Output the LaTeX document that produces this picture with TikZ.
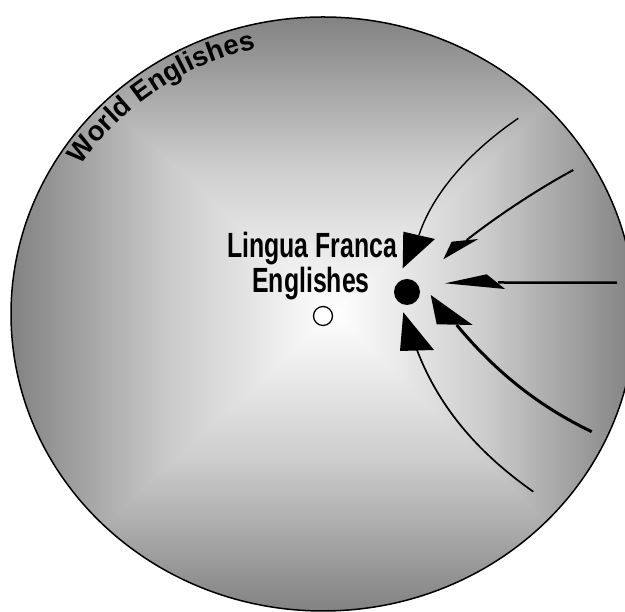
\documentclass[tikz,border=0pt]{standalone}
\usepackage{fontspec}
\setmainfont{Liberation Sans}
\usepackage{graphicx}
\usetikzlibrary{decorations.text}
\definecolor{edgegray}{RGB}{130,130,130}
\definecolor{midgray}{RGB}{204,204,204}
\begin{document}
\begin{tikzpicture}[x=1pt,y=1pt,
  head/.style={fill=black},
  shaft/.style={draw=black},
  lftext/.style={anchor=base, inner sep=0pt, font=\fontsize{35}{35}\selectfont\bfseries}]
\clip (0,0) rectangle (625,612);
\fill[white] (0,0) rectangle (625,612);
\coordinate (F) at (335,300);
% shaded world
\begin{scope}
  \clip (323,298) ellipse [x radius=312, y radius=297];
  \shade[top color=edgegray, bottom color=white, middle color=midgray] (11,300) rectangle (635,595);
  \shade[top color=white, bottom color=edgegray, middle color=midgray] (11,1) rectangle (635,300);
  \begin{scope}
    \clip (11,1) -- (F) -- (11,595) -- cycle;
    \shade[left color=edgegray, right color=white, middle color=midgray] (11,1) rectangle (335,595);
  \end{scope}
  \begin{scope}
    \clip (635,1) -- (F) -- (635,595) -- cycle;
    \shade[left color=white, right color=edgegray, middle color=midgray] (335,1) rectangle (635,595);
  \end{scope}
\end{scope}
\draw[line width=1.5pt] (323,298) ellipse [x radius=312, y radius=297];
% curved label
\path[decorate, decoration={text along path, text align=left,
  text={|\fontsize{27.5}{27.5}\selectfont\bfseries|World Englishes}}]
  (80.8,446.7) arc[start angle=147, end angle=88, x radius=289, y radius=273];
% central labels
\node[lftext] (lf1) at (312,354) {\scalebox{0.71}[1]{Lingua Franca}};
\node[lftext] (lf2) at (311,319) {\scalebox{0.71}[1]{Englishes}};
\node[circle, draw=black, fill=white, line width=1.3pt, minimum size=19pt, inner sep=0pt] (ctr) at (323,296) {};
\node[circle, fill=black, minimum size=26pt, inner sep=0pt] (dot) at (407,320) {};
% arrow start points and head bases
\coordinate (s1) at (518.3,493.7);
\coordinate (e1) at (419,377);
\coordinate (s2) at (573.3,442);
\coordinate (e2) at (466.7,372);
\coordinate (s3) at (617,329.3);
\coordinate (e3) at (498,329.5);
\coordinate (s4) at (591.7,180.3);
\coordinate (e4) at (456.7,287);
\coordinate (s5) at (533.3,120.3);
\coordinate (e5) at (417,262);
% shafts
\draw[shaft, line width=1.4pt] (s1) .. controls (477,465.6) and (434.8,424.4) .. (e1);
\draw[shaft, line width=2pt] (s2) .. controls (540,424) and (500,398) .. (e2);
\draw[shaft, line width=2.5pt] (s3) -- (e3);
\draw[shaft, line width=3pt] (s4) .. controls (537.7,206.3) and (495.1,240.8) .. (e4);
\draw[shaft, line width=1.7pt] (s5) .. controls (480.9,157.1) and (439.8,202.2) .. (e5);
% heads
\fill[head] (403.3,380.3) -- (435,373) -- (402.7,343.7) -- cycle;
\fill[head] (443.3,352.7) -- (451.7,370.3) -- (478.3,373) -- cycle;
\fill[head] (445,328.7) -- (486.7,337.7) -- (505,323) -- cycle;
\fill[head] (430.7,317) -- (436.7,287.7) -- (472.7,287) -- cycle;
\fill[head] (403.3,299.7) -- (400,261) -- (434,262) -- cycle;
\end{tikzpicture}
\end{document}
